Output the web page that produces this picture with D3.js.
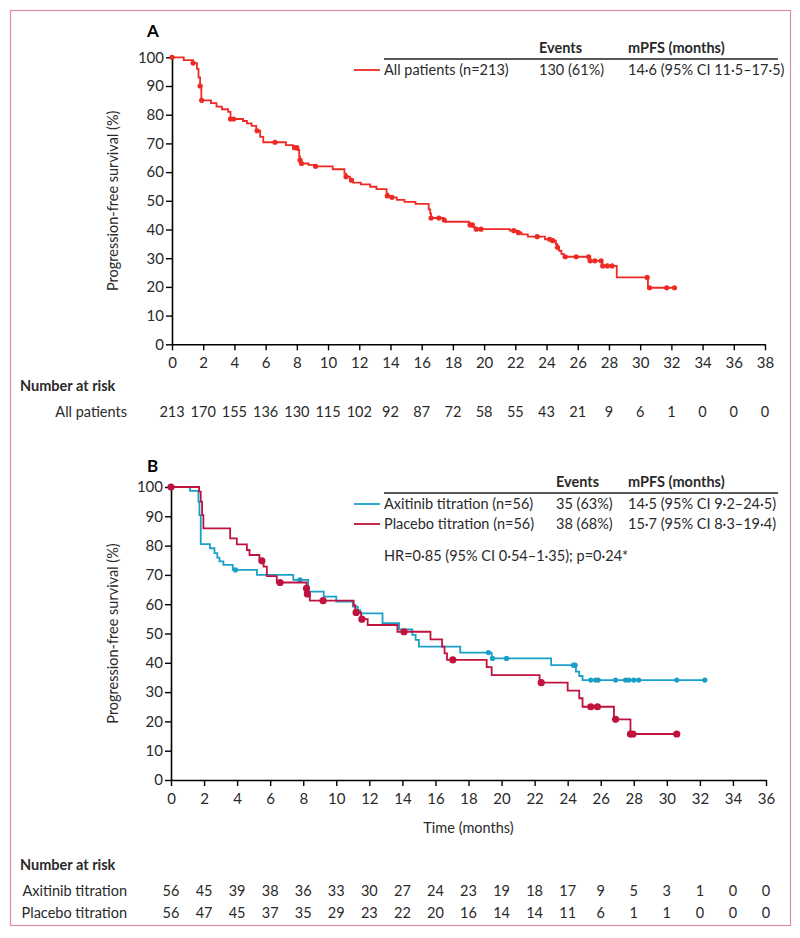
<!DOCTYPE html>
<html>
<head>
<meta charset="utf-8">
<script src="https://cdn.jsdelivr.net/npm/d3@7/dist/d3.min.js"></script>
<style>
  body { margin: 0; background: #fff; }
  svg { display: block; font-family: Lato, "Open Sans", sans-serif; }
  .tick text { font-size: 15px; fill: #2a2a2a; }
  .lbl { font-size: 14.5px; fill: #2a2a2a; }
  .bold { font-weight: bold; }
</style>
</head>
<body>
<div id="chart"></div>
<script>
// time (months), survival (%) after each drop
const allPatientsSteps = [
  [0, 100], [0.75, 99], [1.35, 98], [1.6, 96], [1.7, 93], [1.8, 90], [1.88, 85], [2.5, 84],
  [2.85, 82.8], [3.2, 81.9], [3.6, 81], [3.75, 78.5], [4.55, 77.8], [4.8, 77], [5.1, 76.1],
  [5.4, 74.4], [5.65, 72.3], [5.85, 70.4], [7.3, 69.4], [7.75, 68.5], [8.05, 67.7], [8.15, 65.5],
  [8.2, 64.2], [8.3, 63], [8.75, 62.5], [9.2, 62], [10.3, 61], [11.05, 59.5], [11.15, 58.4],
  [11.4, 57.2], [11.6, 56.3], [12.1, 55.7], [12.7, 54.9], [13.1, 54.1], [13.75, 52.5], [13.85, 51.7],
  [14.05, 51.2], [14.4, 50.3], [14.9, 49.6], [15.6, 48.9], [16.45, 47], [16.55, 45.5], [16.6, 44],
  [17.4, 43.3], [17.5, 42.7], [19.05, 41.6], [19.3, 40.8], [19.4, 40.1], [21.65, 39.6], [22.15, 38.9],
  [22.4, 38.3], [22.8, 37.5], [23.9, 36.6], [24.4, 36.1], [24.6, 34.9], [24.7, 33.8], [24.8, 32.6],
  [24.95, 31.5], [25.1, 30.5], [26.7, 29.1], [27.55, 27.3], [28.5, 23.3], [30.5, 19.7], [32.2, 19.7]
];
const allPatientsCensor = [
  [0, 100], [1.35, 98], [1.8, 90], [1.9, 85], [3.75, 78.5], [3.95, 78.5], [5.45, 74.4], [6.6, 70.4],
  [7.85, 68.5], [8.0, 68.5], [8.2, 64.2], [8.3, 63], [9.2, 62], [11.15, 58.4], [11.5, 57.2],
  [13.8, 51.7], [14.1, 51.2], [16.6, 44], [17.1, 44], [17.45, 43.3], [19.1, 41.6], [19.25, 41.6],
  [19.5, 40.1], [19.8, 40.1], [21.9, 39.6], [22.2, 38.9], [23.4, 37.5], [24.2, 36.6], [24.4, 36.1],
  [24.7, 33.8], [25.2, 30.5], [25.9, 30.5], [26.7, 30.5], [26.8, 29.1], [27.1, 29.1], [27.5, 29.1],
  [27.6, 27.3], [27.9, 27.3], [28.2, 27.3], [30.45, 23.3], [30.6, 19.7], [31.7, 19.7], [32.2, 19.7]
];
const axitinibSteps = [
  [0, 100], [1.15, 98.7], [1.66, 95], [1.72, 90.4], [1.8, 80.5], [2.36, 79.1], [2.63, 77.4],
  [2.8, 75.9], [2.93, 74.6], [3.17, 73.4], [3.74, 71.7], [5.2, 70], [7.4, 68.3], [8.3, 64.3],
  [9.24, 62.6], [10.0, 60.9], [11.0, 59.2], [11.3, 58], [11.45, 56.9], [12.8, 53.5], [13.8, 51.4],
  [14.6, 49.5], [14.8, 47.8], [15.0, 45.5], [17.5, 43.5], [19.4, 41.5], [23.0, 39.2], [24.5, 37],
  [24.7, 35.5], [24.9, 34.1], [32.3, 34.1]
];
const axitinibCensor = [
  [3.9, 71.7], [7.8, 68.3], [19.2, 43.5], [19.45, 41.5], [20.3, 41.5], [24.35, 39.2], [24.45, 39.2],
  [25.4, 34.1], [25.7, 34.1], [25.85, 34.1], [26.9, 34.1], [27.5, 34.1], [27.7, 34.1], [28.0, 34.1],
  [28.3, 34.1], [30.6, 34.1], [32.3, 34.1]
];
const placeboSteps = [
  [0, 100], [1.7, 98.4], [1.8, 95], [1.88, 90.4], [1.96, 85.9], [3.58, 82.5], [3.98, 80.4],
  [4.59, 78.5], [4.75, 76.8], [5.35, 74.8], [5.6, 72.8], [5.8, 69.6], [6.4, 67.4], [8.2, 65.4],
  [8.25, 63.5], [8.4, 61.2], [11.05, 59.7], [11.15, 57.2], [11.5, 54.9], [11.9, 52.9], [13.7, 50.6],
  [15.7, 48], [16.4, 45.5], [16.55, 43.2], [16.7, 41], [19.1, 38.5], [19.4, 35.8], [22.3, 33.2],
  [24.0, 30.5], [24.7, 27.9], [24.9, 25], [26.8, 20.7], [27.8, 15.7], [30.6, 15.7]
];
const placeboCensor = [
  [0, 100], [5.5, 74.8], [6.6, 67.4], [8.2, 65.4], [8.25, 63.5], [9.2, 61.2], [11.2, 57.2],
  [11.55, 54.9], [14.1, 50.6], [17.05, 41], [22.4, 33.2], [25.4, 25], [25.8, 25], [26.9, 20.7],
  [27.8, 15.7], [27.95, 15.7], [30.6, 15.7]
];

const ticksA = d3.range(0, 39, 2);
const ticksB = d3.range(0, 37, 2);
const ticksY = d3.range(0, 101, 10);
const riskAll = [213, 170, 155, 136, 130, 115, 102, 92, 87, 72, 58, 55, 43, 21, 9, 6, 1, 0, 0, 0];
const riskAxitinib = [56, 45, 39, 38, 36, 33, 30, 27, 24, 23, 19, 18, 17, 9, 5, 3, 1, 0, 0];
const riskPlacebo = [56, 47, 45, 37, 35, 29, 23, 22, 20, 16, 14, 14, 11, 6, 1, 1, 0, 0, 0];

const red = "#ee2a24";
const cyan = "#1aa0c8";
const crimson = "#c0123e";

const svg = d3.select("#chart").append("svg")
  .attr("width", 800)
  .attr("height", 938);

svg.append("rect")
  .attr("x", 10.5).attr("y", 10.5)
  .attr("width", 780).attr("height", 915)
  .attr("fill", "none")
  .attr("stroke", "#e38aa6")
  .attr("stroke-width", 1.2);

function drawPanel(cfg) {
  const x = d3.scaleLinear().domain([0, cfg.xMax]).range(cfg.xRange);
  const y = d3.scaleLinear().domain([0, 100]).range(cfg.yRange);
  const g = svg.append("g");

  g.append("g")
    .attr("transform", `translate(0,${cfg.yRange[0]})`)
    .call(d3.axisBottom(x).tickValues(cfg.xTicks).tickSize(6).tickPadding(7).tickSizeOuter(0))
    .call(a => a.select(".domain").attr("stroke-width", 1.6))
    .call(a => a.selectAll(".tick line").attr("stroke-width", 1.4));

  g.append("g")
    .attr("transform", `translate(${cfg.xRange[0]},0)`)
    .call(d3.axisLeft(y).tickValues(ticksY).tickSize(6).tickPadding(2).tickSizeOuter(0))
    .call(a => a.select(".domain").attr("stroke-width", 1.6))
    .call(a => a.selectAll(".tick line").attr("stroke-width", 1.4));

  g.selectAll(".tick text").attr("font-family", "Lato, sans-serif");

  g.append("text")
    .attr("class", "lbl")
    .attr("transform", `translate(${cfg.yLabelX},${(cfg.yRange[0] + cfg.yRange[1]) / 2}) rotate(-90)`)
    .attr("text-anchor", "middle")
    .text("Progression-free survival (%)");

  g.append("text")
    .attr("class", "bold")
    .attr("x", 147).attr("y", cfg.letterY)
    .attr("font-size", 17)
    .text(cfg.letter);

  const line = d3.line()
    .x(d => x(d[0]))
    .y(d => y(d[1]))
    .curve(d3.curveStepAfter);

  cfg.series.forEach(s => {
    g.append("path")
      .datum(s.steps)
      .attr("fill", "none")
      .attr("stroke", s.color)
      .attr("stroke-width", 1.8)
      .attr("d", line);
    g.append("g").selectAll("circle")
      .data(s.censor)
      .join("circle")
      .attr("cx", d => x(d[0]))
      .attr("cy", d => y(d[1]))
      .attr("r", s.r)
      .attr("fill", s.color);
  });

  return x;
}

const xA = drawPanel({
  xMax: 38, xRange: [172, 765], yRange: [344.3, 57.3], xTicks: ticksA,
  yLabelX: 118, letter: "A", letterY: 37,
  series: [{ steps: allPatientsSteps, censor: allPatientsCensor, color: red, r: 2.6 }]
});

const xB = drawPanel({
  xMax: 36, xRange: [171, 766], yRange: [780, 487], xTicks: ticksB,
  yLabelX: 118, letter: "B", letterY: 472,
  series: [
    { steps: axitinibSteps, censor: axitinibCensor, color: cyan, r: 2.6 },
    { steps: placeboSteps, censor: placeboCensor, color: crimson, r: 3.6 }
  ]
});

// legend tables
function legend(top, rows, extra) {
  const g = svg.append("g");
  g.append("text").attr("class", "lbl bold").attr("x", rows.eventsX).attr("y", top).text("Events");
  g.append("text").attr("class", "lbl bold").attr("x", 628).attr("y", top).text("mPFS (months)");
  g.append("line")
    .attr("x1", 384).attr("x2", 778)
    .attr("y1", top + 6).attr("y2", top + 6)
    .attr("stroke", "#222").attr("stroke-width", 1.6);
  rows.items.forEach((r, i) => {
    const yy = top + 22 + i * 20;
    g.append("line")
      .attr("x1", 354).attr("x2", 380)
      .attr("y1", yy - 5).attr("y2", yy - 5)
      .attr("stroke", r.color).attr("stroke-width", 1.8);
    g.append("text").attr("class", "lbl").attr("x", 384).attr("y", yy).text(r.name);
    g.append("text").attr("class", "lbl").attr("x", rows.eventsX).attr("y", yy).text(r.events);
    g.append("text").attr("class", "lbl").attr("x", 628).attr("y", yy).text(r.mpfs);
  });
  if (extra) {
    g.append("text").attr("class", "lbl").attr("x", 384).attr("y", extra.y).text(extra.text);
  }
}

legend(53, {
  eventsX: 539,
  items: [{ name: "All patients (n=213)", events: "130 (61%)", mpfs: "14·6 (95% CI 11·5–17·5)", color: red }]
});

legend(487, {
  eventsX: 556,
  items: [
    { name: "Axitinib titration (n=56)", events: "35 (63%)", mpfs: "14·5 (95% CI 9·2–24·5)", color: cyan },
    { name: "Placebo titration (n=56)", events: "38 (68%)", mpfs: "15·7 (95% CI 8·3–19·4)", color: crimson }
  ]
}, { y: 561, text: "HR=0·85 (95% CI 0·54–1·35); p=0·24*" });

svg.append("text")
  .attr("class", "lbl")
  .attr("x", (171 + 766) / 2).attr("y", 833)
  .attr("text-anchor", "middle")
  .text("Time (months)");

// number at risk
function riskTable(x, ticks, titleY, rows) {
  svg.append("text").attr("class", "lbl bold").attr("x", 20).attr("y", titleY).text("Number at risk");
  rows.forEach((r, i) => {
    const yy = titleY + 26 + i * 22;
    svg.append("text").attr("class", "lbl").attr("x", 127).attr("y", yy)
      .attr("text-anchor", "end").text(r.label);
    svg.append("g").selectAll("text")
      .data(r.values)
      .join("text")
      .attr("class", "lbl")
      .attr("x", (d, j) => x(ticks[j]))
      .attr("y", yy)
      .attr("text-anchor", "middle")
      .text(d => d);
  });
}

riskTable(xA, ticksA, 391, [{ label: "All patients", values: riskAll }]);
riskTable(xB, ticksB, 870, [
  { label: "Axitinib titration", values: riskAxitinib },
  { label: "Placebo titration", values: riskPlacebo }
]);
</script>
</body>
</html>
